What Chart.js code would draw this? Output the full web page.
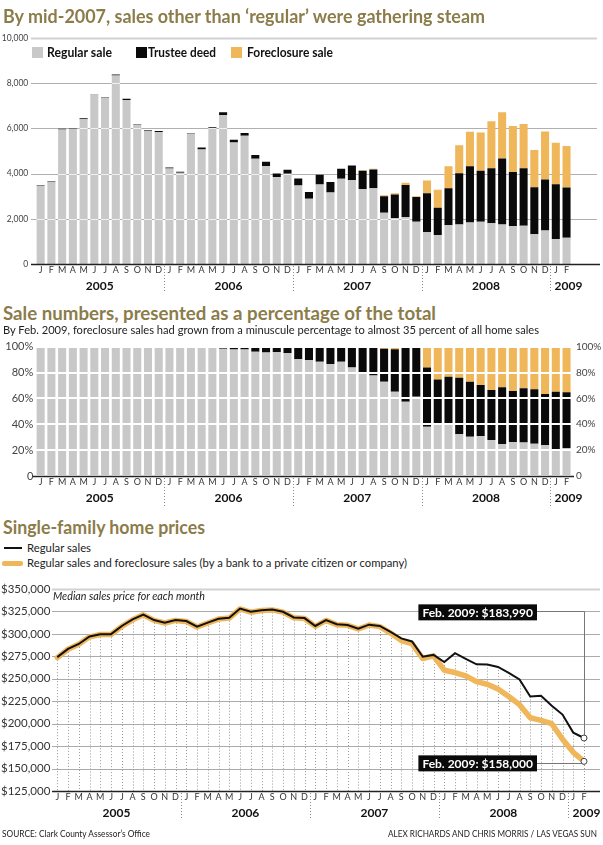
<!DOCTYPE html>
<html>
<head>
<meta charset="utf-8">
<script src="https://cdn.jsdelivr.net/npm/chart.js@4.4.1/dist/chart.umd.min.js"></script>
<style>
  body { margin: 0; width: 603px; height: 845px; position: relative; background: #fff; overflow: hidden;
         font-family: Lato, "Open Sans", sans-serif; color: #222; }
  canvas { position: absolute; left: 0; }
  .txt { position: absolute; white-space: nowrap; transform-origin: 0 0; line-height: normal; }
  .title { font-weight: bold; font-size: 19px; color: #8b7c4a; }
  .sw { position: absolute; width: 11px; height: 11px; }
  .leg { font-weight: bold; font-size: 12.5px; color: #111; }
  .lline { position: absolute; }
</style>
</head>
<body>
<canvas id="salesChart" width="603" height="300" style="top:0"></canvas>
<canvas id="pctChart" width="603" height="180" style="top:336px"></canvas>
<canvas id="priceChart" width="603" height="255" style="top:575px"></canvas>

<div class="txt title" data-w="482" style="left:3px;top:4px">By mid-2007, sales other than ‘regular’ were gathering steam</div>
<div class="sw" style="left:32px;top:47px;background:#c8c8c8"></div>
<div class="txt leg" data-w="65" style="left:47px;top:45px">Regular sale</div>
<div class="sw" style="left:136px;top:47px;background:#0a0a0a"></div>
<div class="txt leg" data-w="68" style="left:148px;top:45px">Trustee deed</div>
<div class="sw" style="left:231px;top:47px;background:#efb65a"></div>
<div class="txt leg" data-w="86" style="left:247px;top:45px">Foreclosure sale</div>

<div class="txt title" data-w="433" style="left:3px;top:301px">Sale numbers, presented as a percentage of the total</div>
<div class="txt" data-w="536" style="left:3px;top:322px;font-size:12px">By Feb. 2009, foreclosure sales had grown from a minuscule percentage to almost 35 percent of all home sales</div>

<div class="txt title" data-w="202" style="left:3px;top:516px;font-size:18px">Single-family home prices</div>
<div class="lline" style="left:4px;top:547px;width:18px;height:2px;background:#111"></div>
<div class="txt" data-w="64" style="left:27px;top:540px;font-size:12px">Regular sales</div>
<div class="lline" style="left:2px;top:561px;width:21px;height:5px;border-radius:2px;background:#efb65a"></div>
<div class="txt" data-w="380" style="left:27px;top:555px;font-size:12px">Regular sales and foreclosure sales (by a bank to a private citizen or company)</div>
<div class="txt" data-w="152" style="left:53px;top:588px;font-size:12px;font-style:italic">Median sales price for each month</div>

<div class="txt" data-w="148" style="left:2px;top:828px;font-size:9.5px">SOURCE: Clark County Assessor’s Office</div>
<div class="txt" data-w="209" style="left:388px;top:828px;font-size:9.5px">ALEX RICHARDS AND CHRIS MORRIS / LAS VEGAS SUN</div>

<script>
// months Jan 2005 - Feb 2009
const monthLetters = ['J','F','M','A','M','J','J','A','S','O','N','D'];
const years = ['2005', '2006', '2007', '2008', '2009'];
const monthsInYear = [12, 12, 12, 12, 2];

// number of sales by type
const regularSales = [
  3450, 3620, 5950, 5990, 6410, 7490, 7360, 8340, 7260, 6160, 5900, 5840,
  4230, 4040, 5760, 5070, 6010, 6590, 5380, 5670, 4660, 4330, 3850, 3990,
  3470, 2890, 3520, 3160, 3770, 3710, 3320, 3350, 2270, 2030, 2080, 1870,
  1410, 1280, 1710, 1750, 1840, 1870, 1800, 1750, 1680, 1690, 1320, 1480,
  1110, 1160];
const trusteeSales = [
  20, 30, 40, 20, 40, 10, 20, 40, 50, 20, 30, 40,
  40, 40, 30, 80, 40, 120, 120, 130, 160, 190, 150, 180,
  310, 300, 430, 470, 440, 650, 810, 830, 730, 1040, 1420, 1100,
  1720, 1210, 1640, 2260, 2490, 2260, 2440, 2920, 2390, 2550, 2080, 2260,
  2420, 2220];
const foreclosureSales = [
  0, 0, 0, 0, 0, 0, 0, 0, 0, 0, 0, 0,
  0, 0, 0, 0, 0, 0, 0, 0, 0, 0, 0, 0,
  0, 0, 0, 0, 0, 0, 20, 30, 40, 60, 90, 30,
  560, 800, 980, 1240, 1520, 1690, 2080, 2050, 2040, 1960, 1640, 2120,
  1830, 1840];

// share of all sales, percent
const regularPct = [
  99.4, 99.2, 99.4, 99.6, 99.4, 99.8, 99.7, 99.5, 99.3, 99.6, 99.5, 99.3,
  99.2, 99.4, 99.2, 99.0, 99.2, 98.5, 97.9, 97.9, 96.1, 95.6, 95.9, 95.1,
  90.2, 89.7, 88.4, 86.6, 88.4, 84.0, 79.4, 77.8, 72.9, 65.2, 57.5, 61.3,
  38.1, 39.4, 40.2, 32.2, 30.4, 30.9, 27.8, 24.7, 26.3, 26.0, 25.0, 24.0,
  20.1, 21.6];
const trusteePct = [
  0.6, 0.8, 0.6, 0.4, 0.6, 0.2, 0.3, 0.5, 0.7, 0.4, 0.5, 0.7,
  0.8, 0.6, 0.8, 1.0, 0.8, 1.5, 2.1, 2.1, 3.9, 4.4, 4.1, 4.9,
  9.8, 10.3, 11.6, 13.4, 11.6, 16.0, 20.3, 21.7, 25.6, 32.8, 41.5, 38.2,
  45.9, 35.3, 36.6, 43.8, 42.5, 39.5, 38.7, 43.9, 39.4, 41.8, 42.0, 39.4,
  45.1, 43.1];
const foreclosurePct = [
  0, 0, 0, 0, 0, 0, 0, 0, 0, 0, 0, 0,
  0, 0, 0, 0, 0, 0, 0, 0, 0, 0, 0, 0,
  0, 0, 0, 0, 0, 0, 0.3, 0.5, 1.5, 2.0, 1.0, 0.5,
  16.0, 25.3, 23.2, 24.0, 27.1, 29.6, 33.5, 31.4, 34.3, 32.2, 33.0, 36.6,
  34.8, 35.3];

// median sales price
const regularPrice = [
  274000, 283200, 288700, 297000, 299600, 299600, 308700, 316000, 321500, 315300, 312400, 315300,
  314200, 308000, 312400, 316800, 317900, 328100, 324500, 326300, 327000, 324500, 318200, 317500,
  308700, 315300, 310600, 309800, 305800, 310200, 308700, 302100, 294900, 291500, 274500, 276500,
  268600, 278400, 272200, 266000, 265700, 263100, 256500, 249200, 230200, 231000, 220000, 210100,
  190000, 183990];
const withForeclosurePrice = [
  273500, 282800, 288300, 296600, 299200, 299200, 308300, 315600, 321100, 314900, 312000, 314900,
  313800, 307600, 312000, 316400, 317500, 327700, 324100, 325900, 326600, 324100, 317800, 317100,
  308300, 314900, 310200, 309400, 305400, 309800, 308000, 300800, 292500, 289000, 272500, 275500,
  259500, 256900, 253200, 246700, 243800, 238600, 230200, 221100, 206500, 203600, 199900, 182700,
  168100, 158000];
const priceTicks = { min: 125000, max: 350000, step: 25000 };

const labels = [];
years.forEach((y, i) => { for (let m = 0; m < monthsInYear[i]; m++) labels.push(monthLetters[m]); });

// squeeze the html texts to the widths of the printed graphic
document.querySelectorAll('[data-w]').forEach(el => {
  const w = el.getBoundingClientRect().width;
  el.style.transform = 'scaleX(' + (el.dataset.w / w) + ')';
});

const FONT = 'Lato, "Open Sans", sans-serif';
const GRAY_BAR = '#c8c8c8', BLACK = '#0a0a0a', ORANGE = '#efb65a';
Chart.defaults.font.family = FONT;
Chart.defaults.color = '#333';
Chart.defaults.animation = false;

// year names under the months, with dotted separators
function drawYears(chart, sepLen) {
  const xs = chart.scales.x, ctx = chart.ctx, base = chart.chartArea.bottom;
  ctx.save();
  ctx.font = 'bold 12px ' + FONT;
  ctx.fillStyle = '#111';
  ctx.textBaseline = 'middle';
  let start = 0;
  years.forEach((yr, i) => {
    const n = monthsInYear[i];
    const first = xs.getPixelForValue(start), last = xs.getPixelForValue(start + n - 1);
    let sep = first;
    if (start > 0) {
      sep = Math.round((first + xs.getPixelForValue(start - 1)) / 2) + 0.5;
      ctx.strokeStyle = '#8a8a8a';
      ctx.lineWidth = 1;
      ctx.setLineDash([1, 2]);
      ctx.beginPath(); ctx.moveTo(sep, base + 2); ctx.lineTo(sep, base + sepLen); ctx.stroke();
      ctx.setLineDash([]);
    }
    if (n < 12) { ctx.textAlign = 'left'; ctx.fillText(yr, sep + 4, base + 22); }
    else { ctx.textAlign = 'center'; ctx.fillText(yr, (first + last) / 2, base + 22); }
    start += n;
  });
  ctx.restore();
}

function hLine(ctx, y, x0, x1, color, width) {
  ctx.strokeStyle = color; ctx.lineWidth = width;
  ctx.beginPath(); ctx.moveTo(x0, y); ctx.lineTo(x1, y); ctx.stroke();
}

const monthTicks = { autoSkip: false, maxRotation: 0, padding: 1, color: '#333', font: { size: 9 } };
const noGrid = { display: false, drawTicks: false };

// chart 1 - number of sales
const salesGrid = {
  id: 'salesGrid',
  beforeDatasetsDraw(chart) {
    const y = chart.scales.y, ctx = chart.ctx;
    ctx.save();
    y.ticks.forEach(t => {
      if (t.value === 0) return;
      const py = Math.round(y.getPixelForValue(t.value)) + 0.5;
      if (t.value === 10000) hLine(ctx, py, 31, 597, '#d2d2d2', 2);
      else hLine(ctx, py, 31, 597, '#b0b0b0', 1);
    });
    ctx.restore();
  },
  afterDatasetsDraw(chart) {
    // light lines show through the grey bars
    const y = chart.scales.y, ctx = chart.ctx;
    ctx.save();
    chart.getDatasetMeta(0).data.forEach(bar => {
      const p = bar.getProps(['x', 'y', 'base', 'width'], true);
      y.ticks.forEach(t => {
        const py = Math.round(y.getPixelForValue(t.value)) + 0.5;
        if (t.value > 0 && py > p.y && py < p.base)
          hLine(ctx, py, p.x - p.width / 2, p.x + p.width / 2, 'rgba(255,255,255,0.75)', 1);
      });
    });
    ctx.restore();
  },
  afterDraw(chart) {
    const ctx = chart.ctx;
    ctx.save();
    hLine(ctx, chart.chartArea.bottom + 0.5, 31, 600, '#222', 1.5);
    ctx.restore();
    drawYears(chart, 28);
  }
};

new Chart(document.getElementById('salesChart'), {
  type: 'bar',
  data: {
    labels: labels,
    datasets: [
      { label: 'Regular sale', data: regularSales, backgroundColor: GRAY_BAR },
      { label: 'Trustee deed', data: trusteeSales, backgroundColor: BLACK },
      { label: 'Foreclosure sale', data: foreclosureSales, backgroundColor: ORANGE }
    ]
  },
  options: {
    responsive: false,
    layout: { padding: { top: 38, bottom: 16, left: 0, right: 31.1 } },
    datasets: { bar: { categoryPercentage: 1, barPercentage: 0.75 } },
    plugins: { legend: { display: false }, tooltip: { enabled: false } },
    scales: {
      x: {
        stacked: true,
        grid: noGrid,
        border: { display: false },
        ticks: monthTicks,
        afterFit: s => { s.height = 20; }
      },
      y: {
        stacked: true, min: 0, max: 10000,
        grid: noGrid,
        border: { display: false },
        ticks: { stepSize: 2000, padding: 7, color: '#444', font: { size: 8.5 },
                 callback: v => v.toLocaleString('en-US') },
        afterFit: s => { s.width = 35.3; }
      }
    }
  },
  plugins: [salesGrid]
});

// chart 2 - percentage of total
const pctLabel = v => v % 20 === 0 ? (v === 0 ? '0' : v + '%') : '';
const pctDecor = {
  id: 'pctDecor',
  afterDraw(chart) {
    const ctx = chart.ctx;
    ctx.save();
    hLine(ctx, chart.chartArea.bottom + 0.5, 33, 574, '#222', 1.5);
    ctx.restore();
    drawYears(chart, 30);
  }
};

new Chart(document.getElementById('pctChart'), {
  type: 'bar',
  data: {
    labels: labels,
    datasets: [
      { label: 'Regular sale', data: regularPct, backgroundColor: GRAY_BAR },
      { label: 'Trustee deed', data: trusteePct, backgroundColor: BLACK },
      { label: 'Foreclosure sale', data: foreclosurePct, backgroundColor: ORANGE }
    ]
  },
  options: {
    responsive: false,
    layout: { padding: { top: 10.7, bottom: 22, left: 0, right: 0 } },
    datasets: { bar: { categoryPercentage: 1, barPercentage: 0.75 } },
    plugins: { legend: { display: false }, tooltip: { enabled: false } },
    scales: {
      x: {
        stacked: true,
        grid: noGrid,
        border: { display: false },
        ticks: monthTicks,
        afterFit: s => { s.height = 18; }
      },
      y: {
        stacked: true, min: 0, max: 100,
        grid: { color: '#ffffff', lineWidth: 2, z: 1, drawTicks: false },
        border: { display: false },
        ticks: { stepSize: 10, padding: 2, color: '#444', font: { size: 11 }, callback: pctLabel },
        afterFit: s => { s.width = 35.3; }
      },
      y2: {
        position: 'right', min: 0, max: 100,
        grid: noGrid,
        border: { display: false },
        ticks: { stepSize: 10, padding: 4, color: '#444', font: { size: 10 }, callback: pctLabel },
        afterFit: s => { s.width = 31.1; }
      }
    }
  },
  plugins: [pctDecor]
});

// chart 3 - median prices
const priceDecor = {
  id: 'priceDecor',
  beforeDatasetsDraw(chart) {
    const xs = chart.scales.x, y = chart.scales.y, ctx = chart.ctx, area = chart.chartArea;
    ctx.save();
    y.ticks.forEach(t => {
      if (t.value === priceTicks.min) return;
      const py = Math.round(y.getPixelForValue(t.value)) + 0.5;
      if (t.value === priceTicks.max) hLine(ctx, py, 52, 600, '#d2d2d2', 2);
      else hLine(ctx, py, 52, 600, '#ababab', 1);
    });
    // dotted line under each month
    ctx.strokeStyle = '#9a9a9a'; ctx.lineWidth = 1; ctx.setLineDash([1, 2]);
    regularPrice.forEach((v, i) => {
      const px = Math.round(xs.getPixelForValue(i)) + 0.5;
      ctx.beginPath(); ctx.moveTo(px, y.getPixelForValue(v)); ctx.lineTo(px, area.bottom); ctx.stroke();
    });
    ctx.setLineDash([]);
    // leader lines for the Feb. 2009 call-outs
    const last = regularPrice.length - 1;
    const px = Math.round(xs.getPixelForValue(last)) + 0.5;
    const b1 = Math.round(y.getPixelForValue(325000)) + 0.5;
    const p1 = y.getPixelForValue(regularPrice[last]);
    const p2 = y.getPixelForValue(withForeclosurePrice[last]);
    ctx.strokeStyle = '#777'; ctx.lineWidth = 1;
    ctx.beginPath(); ctx.moveTo(530, b1); ctx.lineTo(px, b1); ctx.lineTo(px, p1); ctx.stroke();
    ctx.beginPath(); ctx.moveTo(530, Math.round(p2 + 2) + 0.5); ctx.lineTo(px, Math.round(p2 + 2) + 0.5); ctx.lineTo(px, p2); ctx.stroke();
    ctx.restore();
  },
  afterDraw(chart) {
    const y = chart.scales.y, ctx = chart.ctx, area = chart.chartArea;
    ctx.save();
    hLine(ctx, area.bottom + 0.5, 52, 600, '#222', 1.5);
    const last = regularPrice.length - 1;
    const callouts = [
      { text: 'Feb. 2009: $' + regularPrice[last].toLocaleString('en-US'), cy: y.getPixelForValue(325000) + 1 },
      { text: 'Feb. 2009: $' + withForeclosurePrice[last].toLocaleString('en-US'), cy: y.getPixelForValue(withForeclosurePrice[last]) + 2 }
    ];
    ctx.font = 'bold 12px ' + FONT;
    ctx.textBaseline = 'middle';
    ctx.textAlign = 'left';
    callouts.forEach(c => {
      const w = ctx.measureText(c.text).width + 8;
      const right = 537;
      ctx.fillStyle = '#0a0a0a';
      ctx.fillRect(right - w, c.cy - 8, w, 16);
      ctx.fillStyle = '#fff';
      ctx.fillText(c.text, right - w + 4, c.cy + 0.5);
    });
    ctx.restore();
    drawYears(chart, 27);
  }
};

const lastPoint = n => ctx => ctx.dataIndex === n - 1 ? 3 : 0;

new Chart(document.getElementById('priceChart'), {
  type: 'line',
  data: {
    labels: labels,
    datasets: [
      { label: 'Regular sales', data: regularPrice, borderColor: '#111', borderWidth: 2, tension: 0,
        pointRadius: lastPoint(regularPrice.length), pointBackgroundColor: '#fff', pointBorderColor: '#444', pointBorderWidth: 1 },
      { label: 'Regular sales and foreclosure sales', data: withForeclosurePrice, borderColor: ORANGE, borderWidth: 5.5, tension: 0,
        borderJoinStyle: 'round', borderCapStyle: 'round',
        pointRadius: lastPoint(withForeclosurePrice.length), pointBackgroundColor: '#fff', pointBorderColor: '#444', pointBorderWidth: 1 }
    ]
  },
  options: {
    responsive: false,
    layout: { padding: { top: 10.7, bottom: 14, left: 0, right: 19 } },
    plugins: { legend: { display: false }, tooltip: { enabled: false } },
    scales: {
      x: {
        offset: false,
        grid: noGrid,
        border: { display: false },
        ticks: monthTicks,
        afterFit: s => { s.height = 25; }
      },
      y: {
        min: priceTicks.min, max: priceTicks.max,
        grid: noGrid,
        border: { display: false },
        ticks: { stepSize: priceTicks.step, padding: 7, color: '#333', font: { size: 11.5 },
                 callback: v => '$' + v.toLocaleString('en-US') },
        afterFit: s => { s.width = 57.3; }
      }
    }
  },
  plugins: [priceDecor]
});
</script>
</body>
</html>
